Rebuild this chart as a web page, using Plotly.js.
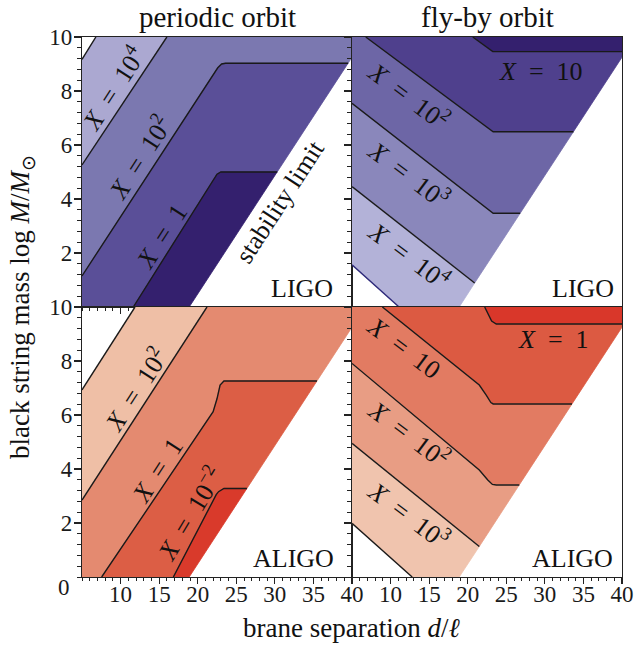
<!DOCTYPE html>
<html><head><meta charset="utf-8">
<script src="https://cdn.plot.ly/plotly-3.0.1.min.js"></script>
<style>html,body{margin:0;padding:0;background:#fff}#plot{width:634px;height:647px}</style>
</head><body><div id="plot"></div>
<script>
// axes
const xRange = [5, 40];
const yRange = [0, 10];
const xTickVals = [10, 15, 20, 25, 30, 35, 40];
const yTickVals = [2, 4, 6, 8, 10];

// stability limit (white region boundary), shared by all panels
const stabX = [18.9, 40], stabY = [0, 9.25];

// Panel 1: periodic orbit, LIGO
const p1EdgeX = [5, 6.8],  p1EdgeY = [9.17, 10];
const p1L4X = [5, 16.0],   p1L4Y = [5.26, 10];                       // X = 10^4
const p1L2X = [5, 22.0, 22.6, 23.1, 23.6, 39.5], p1L2Y = [1.15, 8.56, 8.86, 9.0, 9.03, 9.03]; // X = 10^2
const p1L0X = [11.65, 22.0, 22.5, 23.0, 30.3],   p1L0Y = [0, 4.70, 4.92, 5.0, 5.0];          // X = 1
const p1Colors = ['#aba8d1', '#7b78b0', '#5a4f98', '#34206e'];

// Panel 2: fly-by orbit, LIGO
const p2StripX = [20.65, 23.25, 40], p2StripY = [10, 9.46, 9.46];
const p2LAX = [6.78, 22.6, 23.3, 33.7], p2LAY = [10, 6.64, 6.49, 6.49];
const p2LBX = [5, 22.4, 23.3, 26.8],    p2LBY = [7.54, 3.66, 3.47, 3.47];
const p2LCX = [5, 20.9],                p2LCY = [4.46, 0.89];
const p2LDX = [5, 11.1],                p2LDY = [1.56, 0];
const p2Colors = ['#34206e', '#4f408d', '#6d66a6', '#8a87bb', '#b3b2d8'];

// Panel 3: periodic orbit, ALIGO
const p3EdgeX = [5, 11.87], p3EdgeY = [6.93, 10];
const p3L2X = [5, 21.2],    p3L2Y = [2.85, 10];                                               // X = 10^2
const p3L0X = [7.55, 22.0, 22.5, 22.9, 23.4, 35.46], p3L0Y = [0, 6.12, 6.6, 7.11, 7.26, 7.26]; // X = 1
const p3Lm2X = [16.84, 22.0, 22.4, 22.7, 23.4, 26.38], p3Lm2Y = [0, 2.85, 3.05, 3.16, 3.28, 3.28]; // X = 10^-2
const p3Colors = ['#efbfa6', '#e48a70', '#dc5e45', '#d93a2b'];

// Panel 4: fly-by orbit, ALIGO
const p4StripX = [22.2, 22.7, 23.1, 23.7, 40], p4StripY = [10, 9.7, 9.48, 9.37, 9.37];
const p4LAX = [8.94, 21.5, 22.4, 23.0, 23.3, 33.52], p4LAY = [10, 7.11, 6.74, 6.46, 6.41, 6.41];
const p4LBX = [5, 21.5, 22.6, 23.2, 23.7, 26.68],    p4LBY = [7.91, 3.96, 3.59, 3.43, 3.41, 3.41];
const p4LCX = [5, 21.5], p4LCY = [4.95, 1.13];
const p4LDX = [5, 12.8], p4LDY = [1.99, 0];
const p4Colors = ['#d9372a', '#dc5a42', '#e27b62', '#e89d84', '#f0c4ae'];

const FONT = 'Liberation Serif, Times New Roman, serif';
const LINE = '#1a1a1a';

function seg(xs, ys) { return [xs.slice(), ys.slice()]; }
function rev(xs, ys) { return [xs.slice().reverse(), ys.slice().reverse()]; }
function pt(x, y) { return [[x], [y]]; }
function cat(...parts) {
  const X = [], Y = [];
  parts.forEach(p => { X.push(...p[0]); Y.push(...p[1]); });
  return [X, Y];
}
const traces = [];
function poly(p, color, n) {
  traces.push({type: 'scatter', x: p[0], y: p[1], mode: 'lines', fill: 'toself',
    fillcolor: color, line: {color: color, width: 0.8}, xaxis: 'x' + (n > 1 ? n : ''),
    yaxis: 'y' + (n > 1 ? n : ''), hoverinfo: 'skip', showlegend: false});
}
function line(xs, ys, n, color) {
  traces.push({type: 'scatter', x: xs, y: ys, mode: 'lines',
    line: {color: color || LINE, width: 1.4}, xaxis: 'x' + (n > 1 ? n : ''),
    yaxis: 'y' + (n > 1 ? n : ''), hoverinfo: 'skip', showlegend: false});
}
const xMax = xRange[1], yMax = yRange[1], xMin = xRange[0], yMin = yRange[0];
const stabTop = pt(stabX[1], stabY[1]);
const stabBot = pt(stabX[0], stabY[0]);

// Panel 1
poly(cat(seg(p1EdgeX, p1EdgeY), rev(p1L4X, p1L4Y)), p1Colors[0], 1);
poly(cat(seg(p1L4X, p1L4Y), pt(xMax, yMax), stabTop, rev(p1L2X, p1L2Y)), p1Colors[1], 1);
poly(cat(seg(p1L2X, p1L2Y), rev(p1L0X, p1L0Y), pt(xMin, yMin)), p1Colors[2], 1);
poly(cat(seg(p1L0X, p1L0Y), stabBot), p1Colors[3], 1);
line(p1EdgeX, p1EdgeY, 1); line(p1L4X, p1L4Y, 1); line(p1L2X, p1L2Y, 1); line(p1L0X, p1L0Y, 1);

// Panel 2
poly(cat(seg(p2StripX, p2StripY), pt(xMax, yMax)), p2Colors[0], 2);
poly(cat(seg(p2StripX, p2StripY), stabTop, rev(p2LAX, p2LAY)), p2Colors[1], 2);
poly(cat(seg(p2LAX, p2LAY), rev(p2LBX, p2LBY), pt(xMin, yMax)), p2Colors[2], 2);
poly(cat(seg(p2LBX, p2LBY), rev(p2LCX, p2LCY)), p2Colors[3], 2);
poly(cat(seg(p2LCX, p2LCY), stabBot, rev(p2LDX, p2LDY)), p2Colors[4], 2);
line(p2StripX, p2StripY, 2); line(p2LAX, p2LAY, 2); line(p2LBX, p2LBY, 2);
line(p2LCX, p2LCY, 2); line(p2LDX, p2LDY, 2, '#2e2a7a');

// Panel 3
poly(cat(seg(p3EdgeX, p3EdgeY), rev(p3L2X, p3L2Y)), p3Colors[0], 3);
poly(cat(seg(p3L2X, p3L2Y), pt(xMax, yMax), stabTop, rev(p3L0X, p3L0Y), pt(xMin, yMin)), p3Colors[1], 3);
poly(cat(seg(p3L0X, p3L0Y), rev(p3Lm2X, p3Lm2Y)), p3Colors[2], 3);
poly(cat(seg(p3Lm2X, p3Lm2Y), stabBot), p3Colors[3], 3);
line(p3EdgeX, p3EdgeY, 3); line(p3L2X, p3L2Y, 3); line(p3L0X, p3L0Y, 3); line(p3Lm2X, p3Lm2Y, 3);

// Panel 4
poly(cat(seg(p4StripX, p4StripY), pt(xMax, yMax)), p4Colors[0], 4);
poly(cat(seg(p4StripX, p4StripY), stabTop, rev(p4LAX, p4LAY)), p4Colors[1], 4);
poly(cat(seg(p4LAX, p4LAY), rev(p4LBX, p4LBY), pt(xMin, yMax)), p4Colors[2], 4);
poly(cat(seg(p4LBX, p4LBY), rev(p4LCX, p4LCY)), p4Colors[3], 4);
poly(cat(seg(p4LCX, p4LCY), stabBot, rev(p4LDX, p4LDY)), p4Colors[4], 4);
line(p4StripX, p4StripY, 4); line(p4LAX, p4LAY, 4); line(p4LBX, p4LBY, 4);
line(p4LCX, p4LCY, 4); line(p4LDX, p4LDY, 4);

function xax(domain, anchor, labels) {
  return {domain: domain, anchor: anchor, range: xRange, tickmode: 'array', tickvals: xTickVals,
    showticklabels: labels, ticks: 'outside', ticklen: 6, tickwidth: 1.1, tickcolor: '#222',
    ticklabelstandoff: -10,
    showline: true, linecolor: '#222', linewidth: 1.2, mirror: true, showgrid: false, zeroline: false,
    tickfont: {family: FONT, size: 23, color: '#1a1a1a'},
    minor: {tickmode: 'linear', tick0: 0, dtick: 1, ticks: 'outside', ticklen: 3, tickwidth: 1, tickcolor: '#222', showgrid: false}};
}
function yax(domain, anchor, labels) {
  return {domain: domain, anchor: anchor, range: yRange, tickmode: 'array', tickvals: yTickVals,
    showticklabels: labels, ticks: 'outside', ticklen: 7, tickwidth: 1.1, tickcolor: '#222',
    ticklabelstandoff: -3,
    showline: true, linecolor: '#222', linewidth: 1.2, mirror: true, showgrid: false, zeroline: false,
    tickfont: {family: FONT, size: 23, color: '#1a1a1a'},
    minor: {tickmode: 'linear', tick0: 0, dtick: 0.4, ticks: 'outside', ticklen: 3.5, tickwidth: 1, tickcolor: '#222', showgrid: false}};
}

const LF = {family: FONT, size: 26, color: '#111'};
function ann(n, x, y, text, angle) {
  return {xref: 'x' + (n > 1 ? n : ''), yref: 'y' + (n > 1 ? n : ''), x: x, y: y, text: text,
    textangle: angle || 0, showarrow: false, font: LF, xanchor: 'center', yanchor: 'middle'};
}
const EQ = '\u2002=\u2002';
const annotations = [
  ann(1, 8.9, 8.11, '<i>X</i>' + EQ + '10<sup>4</sup>', -57),
  ann(1, 12.5, 5.56, '<i>X</i>' + EQ + '10<sup>2</sup>', -57),
  ann(1, 15.4, 2.6, '<i>X</i>' + EQ + '1', -57),
  ann(1, 30.7, 3.9, 'stability limit', -57),
  ann(1, 33.5, 0.7, 'LIGO', 0),
  ann(2, 29.5, 8.72, '<i>X</i>' + EQ + '10', 0),
  ann(2, 12.5, 7.85, '<i>X</i>' + EQ + '10<sup>2</sup>', 37),
  ann(2, 12.4, 4.95, '<i>X</i>' + EQ + '10<sup>3</sup>', 37),
  ann(2, 12.4, 1.93, '<i>X</i>' + EQ + '10<sup>4</sup>', 37),
  ann(2, 34.95, 0.69, 'LIGO', 0),
  ann(3, 11.87, 6.95, '<i>X</i>' + EQ + '10<sup>2</sup>', -57),
  ann(3, 14.8, 3.96, '<i>X</i>' + EQ + '1', -57),
  ann(3, 18.9, 2.36, '<i>X</i>' + EQ + '10<sup>\u22122</sup>', -59),
  ann(3, 32.4, 0.69, 'ALIGO', 0),
  ann(4, 31.1, 8.78, '<i>X</i>' + EQ + '1', 0),
  ann(4, 11.8, 8.47, '<i>X</i>' + EQ + '10', 37),
  ann(4, 12.5, 5.32, '<i>X</i>' + EQ + '10<sup>2</sup>', 37),
  ann(4, 12.5, 2.33, '<i>X</i>' + EQ + '10<sup>3</sup>', 37),
  ann(4, 33.6, 0.69, 'ALIGO', 0),
  {xref: 'paper', yref: 'paper', x: 0.251, y: 1.037, text: 'periodic orbit', showarrow: false,
   font: {family: FONT, size: 29, color: '#111'}, xanchor: 'center', yanchor: 'middle'},
  {xref: 'paper', yref: 'paper', x: 0.751, y: 1.037, text: 'fly-by orbit', showarrow: false,
   font: {family: FONT, size: 29, color: '#111'}, xanchor: 'center', yanchor: 'middle'},
  {xref: 'paper', yref: 'paper', x: -0.111, y: 0.5, text: 'black string mass log <i>M</i>/<i>M</i><sub>\u2299</sub>',
   textangle: -90, showarrow: false, font: {family: FONT, size: 27, color: '#111'}, xanchor: 'center', yanchor: 'middle'},
  {xref: 'paper', yref: 'paper', x: 0.499, y: -0.094, text: 'brane separation <i>d</i>/<i>\u2113</i>',
   showarrow: false, font: {family: FONT, size: 27, color: '#111'}, xanchor: 'center', yanchor: 'middle'},
  {xref: 'paper', yref: 'paper', x: -0.018, y: -0.02, text: '0', showarrow: false,
   font: {family: FONT, size: 23, color: '#1a1a1a'}, xanchor: 'right', yanchor: 'middle'}
];

const layout = {
  width: 634, height: 647,
  margin: {l: 82, r: 12, t: 37, b: 70, pad: 0},
  paper_bgcolor: '#fff', plot_bgcolor: '#fff',
  showlegend: false,
  xaxis: xax([0, 0.5], 'y', false),
  yaxis: yax([0.5, 1], 'x', true),
  xaxis2: xax([0.5, 1], 'y2', false),
  yaxis2: yax([0.5, 1], 'x2', false),
  xaxis3: xax([0, 0.5], 'y3', true),
  yaxis3: yax([0, 0.5], 'x3', true),
  xaxis4: xax([0.5, 1], 'y4', true),
  yaxis4: yax([0, 0.5], 'x4', false),
  annotations: annotations
};
Plotly.newPlot('plot', traces, layout, {staticPlot: true});
</script>
</body></html>
